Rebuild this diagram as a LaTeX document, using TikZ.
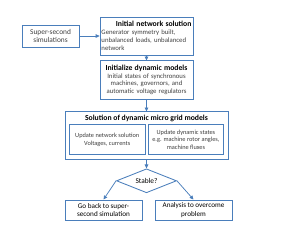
\documentclass[tikz,border=0pt]{standalone}
\usepackage{fontspec}
\setmainfont{Carlito}
\usetikzlibrary{arrows.meta, positioning, shapes.geometric, calc}
\definecolor{FlowBlue}{HTML}{4A7EBB}
\definecolor{FlowText}{HTML}{404040}

\begin{document}
\begin{tikzpicture}[
    box/.style={
      rectangle, draw=FlowBlue, line width=0.8pt, fill=white, inner sep=2pt,
      text=FlowText, font=\fontsize{6}{7.3}\selectfont
    },
    headbox/.style={box, minimum width=3.1cm, minimum height=1.27cm, text width=3cm,
      inner sep=1pt, font=\fontsize{6.4}{7.4}\selectfont},
    endbox/.style={box, minimum width=2.57cm, minimum height=0.67cm, align=center,
      text=black, font=\fontsize{6.8}{8}\selectfont},
    head/.style={font=\fontsize{7.3}{8}\selectfont\bfseries, text=black},
    arr/.style={-{Triangle[length=1.3mm, width=1.2mm]}, draw=FlowBlue, line width=0.7pt}
  ]
    \useasboundingbox (0,0) rectangle (10,-7.5);

    \node[headbox, align=left] (net) at (4.883,-1.2)
      {\mbox{}\hfill{\fontsize{7.3}{8}\selectfont\bfseries\color{black}Initial network solution}\\
       Generator symmetry built,\\unbalanced loads, unbalanced\\network};
    \node[box, minimum width=1.9cm, minimum height=0.73cm, align=center,
      font=\fontsize{7}{8}\selectfont, left=0.67cm of net] (super) {Super-second\\simulations};
    \node[headbox, align=center, below=0.167cm of net] (init)
      {{\fontsize{7.3}{8}\selectfont\bfseries\color{black}Initialize dynamic models}\\
       Initial states of synchronous\\machines, governors, and\\automatic voltage regulators};

    % micro grid solution block
    \node[box, minimum width=5.43cm, minimum height=1.57cm, below=0.4cm of init] (solve) {};
    \node[head, anchor=north, inner sep=0pt] (solvehead) at ($(solve.north)+(0,-0.1)$)
      {Solution of dynamic micro grid models};
    \node[box, minimum width=2.53cm, minimum height=1cm, align=center, anchor=north east]
      (upnet) at ($(solve.north)+(-0.03,-0.43)$) {Update network solution\\Voltages, currents};
    \node[box, minimum width=2.5cm, minimum height=1cm, align=center, anchor=north west]
      (updyn) at ($(solve.north)+(0.05,-0.43)$)
      {Update dynamic states\\e.g. machine rotor angles,\\machine fluxes};

    \node[diamond, draw=FlowBlue, line width=0.8pt, fill=white, aspect=2.5, inner sep=0pt,
      minimum width=2cm, minimum height=0.8cm, font=\fontsize{7}{8}\selectfont,
      below=0.3cm of solve] (stable) {Stable?};

    \node[endbox] (back) at (3.45,-7) {Go back to super-\\second simulation};
    \node[endbox] (fix) at (6.45,-7) {Analysis to overcome\\problem};

    \draw[arr] (super) -- (net);
    \draw[arr] (net) -- (init);
    \draw[arr] (init) -- (solve);
    \draw[arr] (solve) -- (stable);
    \draw[arr] (stable.west) -- (back.north);
    \draw[arr] (stable.east) -- (fix.north);
  \end{tikzpicture}
\end{document}
